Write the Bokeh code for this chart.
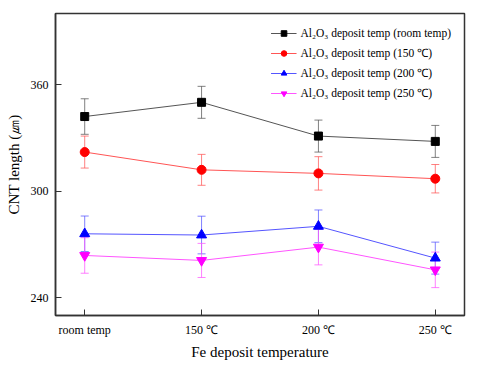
from bokeh.plotting import figure
from bokeh.models import Range1d, FixedTicker, Whisker, ColumnDataSource, TeeHead, Legend, LegendItem
from bokeh.embed import file_html
from bokeh.resources import INLINE

categories = ["room temp", "150 ℃", "200 ℃", "250 ℃"]
x_pos = [0, 1, 2, 3]

room_vals = [342.0, 350.0, 331.0, 328.0]
room_err = [10.0, 9.0, 9.0, 9.0]
t150_vals = [322.0, 312.0, 310.0, 307.0]
t150_err = [9.0, 8.7, 9.4, 8.0]
t200_vals = [276.0, 275.3, 280.2, 262.3]
t200_err = [10.0, 10.6, 9.2, 9.0]
t250_vals = [263.8, 261.0, 268.5, 255.7]
t250_err = [10.0, 9.6, 10.0, 10.0]

series = [
    ("Al₂O₃ deposit temp (room temp)", room_vals, room_err, "#000000", "#555555", "square", 8),
    ("Al₂O₃ deposit temp (150 ℃)", t150_vals, t150_err, "#FF0000", "#FF5555", "circle", 9),
    ("Al₂O₃ deposit temp (200 ℃)", t200_vals, t200_err, "#0000FF", "#5555FF", "triangle", 10),
    ("Al₂O₃ deposit temp (250 ℃)", t250_vals, t250_err, "#FF00FF", "#FF55FF", "inverted_triangle", 10),
]

FONT = "Liberation Serif"

p = figure(width=470, height=362, output_backend="svg", toolbar_location=None,
           x_range=Range1d(-0.25, 3.25), y_range=Range1d(230, 400),
           min_border_left=55, min_border_right=6, min_border_top=13, min_border_bottom=45)
p.grid.visible = False
p.background_fill_color = "white"
p.border_fill_color = "white"
p.outline_line_color = "#333333"
p.outline_line_width = 1.5

items = []
for label, vals, errs, mcol, lcol, marker, size in series:
    src = ColumnDataSource(dict(x=x_pos, y=vals,
                                upper=[v + e for v, e in zip(vals, errs)],
                                lower=[v - e for v, e in zip(vals, errs)]))
    w = Whisker(source=src, base="x", upper="upper", lower="lower",
                line_color=lcol, line_alpha=0.75, line_width=1,
                upper_head=TeeHead(size=8, line_color=lcol, line_alpha=0.75, line_width=1),
                lower_head=TeeHead(size=8, line_color=lcol, line_alpha=0.75, line_width=1))
    p.add_layout(w)
    r1 = p.line("x", "y", source=src, line_color=lcol, line_width=1)
    r2 = p.scatter("x", "y", source=src, marker=marker, size=size,
                   fill_color=mcol, line_color=mcol)
    items.append(LegendItem(label=label, renderers=[r1, r2]))

legend = Legend(items=items, location="top_right")
legend.border_line_alpha = 0
legend.background_fill_alpha = 0
legend.label_text_font = FONT
legend.label_text_font_size = "11.5px"
legend.label_text_color = "black"
legend.glyph_width = 26
legend.glyph_height = 14
legend.label_height = 14
legend.spacing = 5
legend.margin = 8
legend.padding = 5
legend.label_standoff = 4
p.add_layout(legend)

p.xaxis.ticker = FixedTicker(ticks=x_pos)
p.xaxis.major_label_overrides = {i: c for i, c in zip(x_pos, categories)}
p.yaxis.ticker = FixedTicker(ticks=[240, 300, 360])

for ax in (p.xaxis, p.yaxis):
    ax.major_tick_in = 6
    ax.major_tick_out = 0
    ax.minor_tick_line_color = None
    ax.axis_line_color = "#333333"
    ax.axis_line_width = 1.5
    ax.major_tick_line_color = "#333333"
    ax.major_label_text_font = FONT
    ax.major_label_text_font_size = "12px"
    ax.major_label_text_color = "black"
    ax.axis_label_text_font = FONT
    ax.axis_label_text_font_size = "15px"
    ax.axis_label_text_font_style = "normal"
    ax.axis_label_text_color = "black"

p.xaxis.axis_label = "Fe deposit temperature"
p.yaxis.axis_label = "CNT length (㎛)"
p.xaxis.major_label_standoff = 7
p.xaxis.axis_label_standoff = 4
p.yaxis.major_label_standoff = 7
p.yaxis.axis_label_standoff = 6

open("out.html", "w").write(file_html(p, INLINE))
